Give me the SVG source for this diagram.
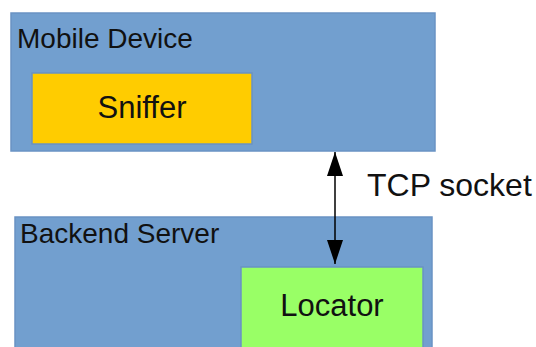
<svg xmlns="http://www.w3.org/2000/svg" width="536" height="347" viewBox="0 0 536 347">
  <style>
    .container { fill: #729fcf; stroke: #6a93c4; stroke-width: 1.5; }
    .label { font-family: "Liberation Sans", Arial, sans-serif; fill: #111111; }
    .big { font-size: 28px; }
    .inner { font-size: 31px; text-anchor: middle; }
    .link { stroke: #000000; stroke-width: 1.5; fill: none; }
  </style>
  <defs>
    <marker id="tip" viewBox="0 0 24 16" refX="24" refY="8" markerWidth="24" markerHeight="16" markerUnits="userSpaceOnUse" orient="auto-start-reverse">
      <path d="M0,0 L24,8 L0,16 Z" fill="#000000"/>
    </marker>
  </defs>

  <g id="mobile-device">
    <rect class="container" x="11" y="13" width="424" height="138"/>
    <text class="label big" x="17" y="48">Mobile Device</text>
  </g>

  <g id="sniffer">
    <rect x="32" y="73" width="220" height="71" fill="#ffcc00" stroke="#6a93c4" stroke-width="1.5"/>
    <text class="label inner" x="142" y="118">Sniffer</text>
  </g>

  <g id="backend-server">
    <rect class="container" x="15" y="217" width="417" height="140"/>
    <text class="label big" x="20" y="243">Backend Server</text>
  </g>

  <g id="locator">
    <rect x="241" y="267" width="182" height="90" fill="#99ff66" stroke="#6a93c4" stroke-width="1.5"/>
    <text class="label inner" x="332" y="316">Locator</text>
  </g>

  <g id="connectors">
    <line class="link" x1="335" y1="152" x2="335" y2="264" marker-start="url(#tip)" marker-end="url(#tip)"/>
    <text class="label" x="367" y="196" font-size="32" fill="#222222">TCP socket</text>
  </g>
</svg>
